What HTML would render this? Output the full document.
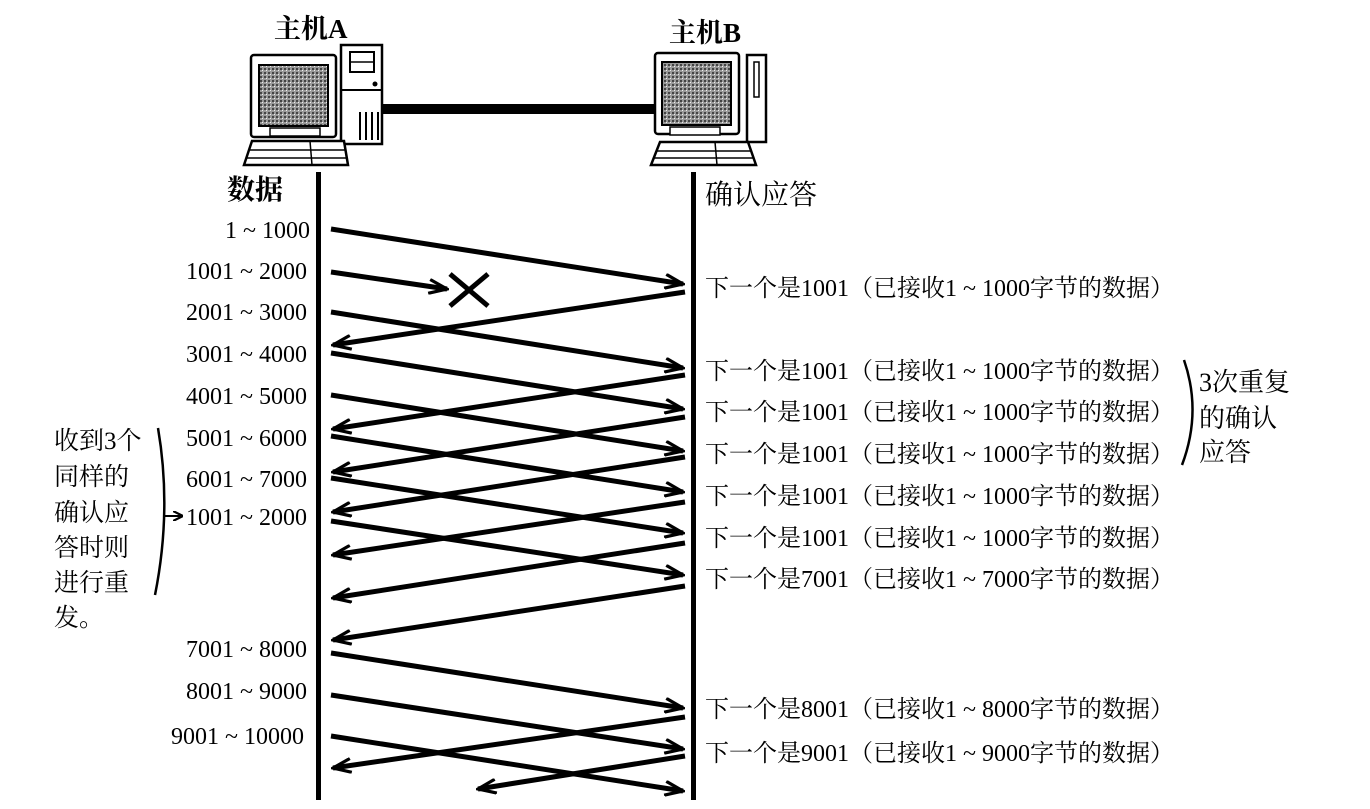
<!DOCTYPE html>
<html><head><meta charset="utf-8"><style>
body{margin:0;background:#fff;}
svg{display:block;}
text{font-family:"Liberation Serif","Noto Serif CJK SC","Noto Sans CJK SC",serif;fill:#000;}
</style></head><body>
<svg width="1370" height="809" viewBox="0 0 1370 809" xmlns="http://www.w3.org/2000/svg">
<defs>
<pattern id="scr" width="4" height="4" patternUnits="userSpaceOnUse">
<rect width="4" height="4" fill="#999"/><rect width="2" height="2" fill="#444"/><rect x="2" y="2" width="1" height="1" fill="#eee"/>
</pattern>
<marker id="ah" markerWidth="10" markerHeight="10" refX="9" refY="5" orient="auto" markerUnits="userSpaceOnUse" viewBox="0 0 10 10">
<path d="M0,0 L10,5 L0,10" fill="none" stroke="#000" stroke-width="2.2"/>
</marker>
<marker id="ah2" markerWidth="22" markerHeight="16" refX="20" refY="8" orient="auto" markerUnits="userSpaceOnUse">
<path d="M2,1 L20,8 L2,15" fill="none" stroke="#000" stroke-width="3.2"/>
</marker>
</defs>

<text x="274" y="38" font-size="27" font-weight="bold">主机A</text>
<text x="669" y="42" font-size="27" font-weight="bold">主机B</text>

<!-- Computer A -->
<rect x="251" y="55" width="85" height="82" fill="#fff" stroke="#000" stroke-width="2.5" rx="3"/>
<rect x="259" y="65" width="69" height="61" fill="url(#scr)" stroke="#000" stroke-width="2"/>
<rect x="270" y="128" width="50" height="8" fill="#fff" stroke="#000" stroke-width="1.5"/>
<rect x="341" y="45" width="41" height="99" fill="#fff" stroke="#000" stroke-width="2.5"/>
<rect x="350" y="52" width="24" height="20" fill="#fff" stroke="#000" stroke-width="2"/>
<line x1="350" y1="62" x2="374" y2="62" stroke="#000" stroke-width="1.5"/>
<circle cx="375" cy="84" r="2.5" fill="#000"/>
<line x1="341" y1="90" x2="382" y2="90" stroke="#000" stroke-width="2"/>
<g stroke="#000" stroke-width="2"><line x1="360" y1="112" x2="360" y2="140"/><line x1="366" y1="112" x2="366" y2="140"/><line x1="372" y1="112" x2="372" y2="140"/><line x1="378" y1="112" x2="378" y2="140"/></g>
<path d="M252,141 L344,141 L348,165 L244,165 Z" fill="#fff" stroke="#000" stroke-width="2.5"/>
<line x1="250" y1="150" x2="346" y2="150" stroke="#000" stroke-width="1.5"/>
<line x1="246" y1="158" x2="347" y2="158" stroke="#000" stroke-width="1.5"/>
<line x1="310" y1="141" x2="312" y2="165" stroke="#000" stroke-width="1.5"/>

<rect x="382" y="104" width="275" height="10" fill="#000"/>

<!-- Computer B -->
<rect x="655" y="53" width="84" height="81" fill="#fff" stroke="#000" stroke-width="2.5" rx="3"/>
<rect x="662" y="62" width="69" height="63" fill="url(#scr)" stroke="#000" stroke-width="2"/>
<rect x="670" y="127" width="50" height="8" fill="#fff" stroke="#000" stroke-width="1.5"/>
<rect x="747" y="55" width="19" height="87" fill="#fff" stroke="#000" stroke-width="2.5"/>
<rect x="754" y="62" width="5" height="35" fill="#fff" stroke="#000" stroke-width="1.5"/>
<path d="M660,142 L748,142 L756,165 L651,165 Z" fill="#fff" stroke="#000" stroke-width="2.5"/>
<line x1="656" y1="151" x2="752" y2="151" stroke="#000" stroke-width="1.5"/>
<line x1="653" y1="158" x2="754" y2="158" stroke="#000" stroke-width="1.5"/>
<line x1="715" y1="142" x2="717" y2="165" stroke="#000" stroke-width="1.5"/>

<rect x="316" y="172" width="5" height="628" fill="#000"/>
<rect x="691" y="172" width="5" height="628" fill="#000"/>

<text x="227" y="199" font-size="28" font-weight="bold">数据</text>
<text x="705" y="204" font-size="28">确认应答</text>

<g font-size="24" text-anchor="end">
<text x="310" y="238">1 ~ 1000</text>
<text x="307" y="279">1001 ~ 2000</text>
<text x="307" y="320">2001 ~ 3000</text>
<text x="307" y="362">3001 ~ 4000</text>
<text x="307" y="404">4001 ~ 5000</text>
<text x="307" y="446">5001 ~ 6000</text>
<text x="307" y="487">6001 ~ 7000</text>
<text x="307" y="525">1001 ~ 2000</text>
<text x="307" y="657">7001 ~ 8000</text>
<text x="307" y="699">8001 ~ 9000</text>
<text x="304" y="744">9001 ~ 10000</text>
</g>

<g font-size="24">
<text x="705" y="296">下一个是1001（已接收1 ~ 1000字节的数据）</text>
<text x="705" y="379">下一个是1001（已接收1 ~ 1000字节的数据）</text>
<text x="705" y="420">下一个是1001（已接收1 ~ 1000字节的数据）</text>
<text x="705" y="462">下一个是1001（已接收1 ~ 1000字节的数据）</text>
<text x="705" y="504">下一个是1001（已接收1 ~ 1000字节的数据）</text>
<text x="705" y="546">下一个是1001（已接收1 ~ 1000字节的数据）</text>
<text x="705" y="587">下一个是7001（已接收1 ~ 7000字节的数据）</text>
<text x="705" y="717">下一个是8001（已接收1 ~ 8000字节的数据）</text>
<text x="705" y="761">下一个是9001（已接收1 ~ 9000字节的数据）</text>
</g>

<path d="M1184,360 Q1202,412 1182,465" fill="none" stroke="#000" stroke-width="2.5"/>
<g font-size="26">
<text x="1199" y="391">3次重复</text>
<text x="1199" y="427">的确认</text>
<text x="1199" y="461">应答</text>
</g>

<g font-size="25">
<text x="54" y="449">收到3个</text>
<text x="54" y="485">同样的</text>
<text x="54" y="521">确认应</text>
<text x="54" y="556">答时则</text>
<text x="54" y="591">进行重</text>
<text x="54" y="626">发。</text>
</g>
<path d="M158,428 Q172,510 155,595" fill="none" stroke="#000" stroke-width="2.5"/>
<line x1="164" y1="516" x2="182" y2="516" stroke="#000" stroke-width="2" marker-end="url(#ah)"/>

<g stroke="#000" stroke-width="5" fill="none" marker-end="url(#ah2)">
<line x1="331" y1="229" x2="683" y2="284"/>
<line x1="331" y1="272" x2="447" y2="289"/>
<line x1="685" y1="292" x2="333" y2="345"/>
<line x1="331" y1="312" x2="683" y2="368"/>
<line x1="331" y1="353" x2="683" y2="409"/>
<line x1="685" y1="375" x2="333" y2="429"/>
<line x1="331" y1="395" x2="683" y2="451"/>
<line x1="685" y1="417" x2="333" y2="472"/>
<line x1="331" y1="436" x2="683" y2="492"/>
<line x1="685" y1="457" x2="333" y2="512"/>
<line x1="331" y1="478" x2="683" y2="533"/>
<line x1="685" y1="502" x2="333" y2="555"/>
<line x1="331" y1="521" x2="683" y2="575"/>
<line x1="685" y1="543" x2="333" y2="598"/>
<line x1="685" y1="586" x2="333" y2="640"/>
<line x1="331" y1="653" x2="683" y2="708"/>
<line x1="331" y1="695" x2="683" y2="749"/>
<line x1="685" y1="717" x2="333" y2="768"/>
<line x1="331" y1="736" x2="683" y2="791"/>
<line x1="685" y1="756" x2="478" y2="789"/>
</g>

<g stroke="#000" stroke-width="5">
<line x1="450" y1="274" x2="488" y2="306"/>
<line x1="488" y1="274" x2="450" y2="306"/>
</g>
</svg>
</body></html>
